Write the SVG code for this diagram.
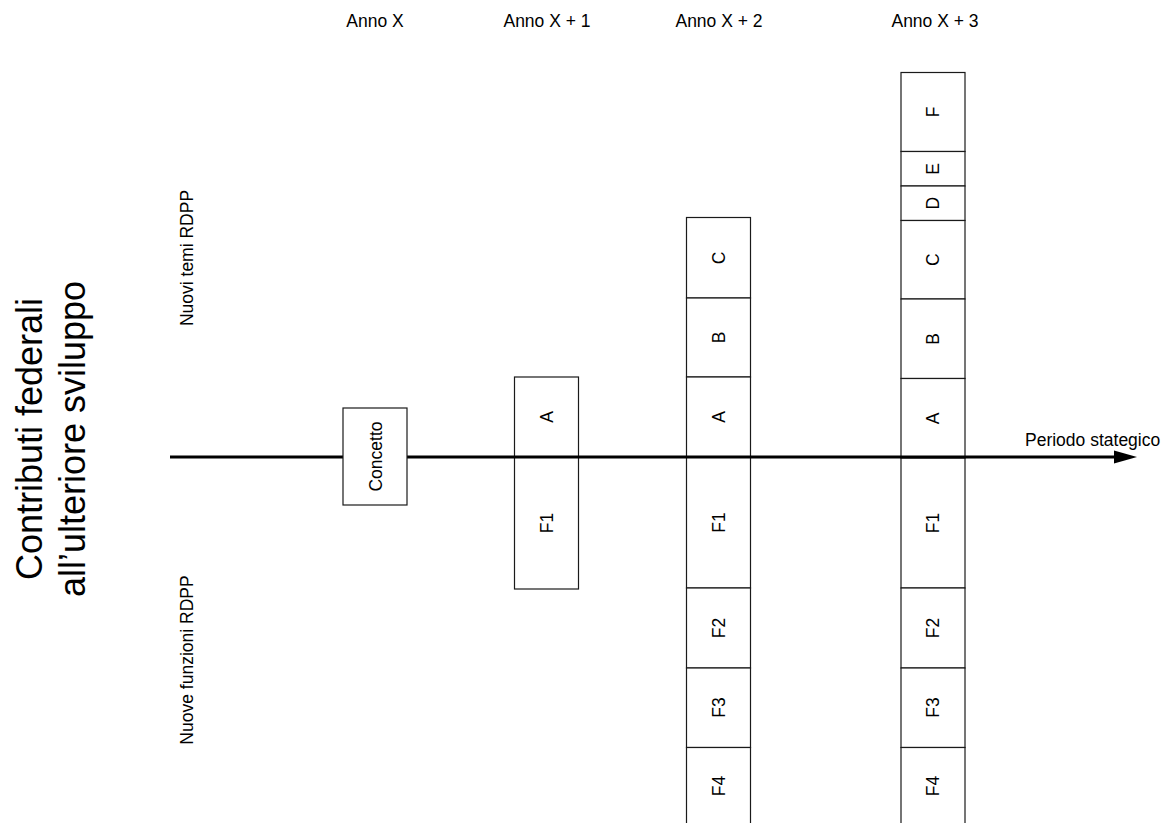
<svg xmlns="http://www.w3.org/2000/svg" width="1171" height="823" viewBox="0 0 1171 823">
<style>
text{font-family:"Liberation Sans",Arial,sans-serif;fill:#000}
.t{font-size:17.5px}
.big{font-size:36px}
.c{fill:#fff;stroke:#1a1a1a;stroke-width:1.2}
.ax{stroke:#000;stroke-width:3;fill:none}
</style>
<rect x="0" y="0" width="1171" height="823" fill="#fff"/>
<g id="headers">
<text class="t" x="375" y="27" text-anchor="middle">Anno X</text>
<text class="t" x="547" y="27" text-anchor="middle">Anno X + 1</text>
<text class="t" x="719" y="27" text-anchor="middle">Anno X + 2</text>
<text class="t" x="935" y="27" text-anchor="middle">Anno X + 3</text>
</g>
<g id="title">
<text class="big" transform="translate(42,439) rotate(-90)" text-anchor="middle">Contributi federali</text>
<text class="big" transform="translate(85,439) rotate(-90)" text-anchor="middle">all’ulteriore sviluppo</text>
</g>
<g id="side-labels">
<text class="t" transform="translate(193,258) rotate(-90)" text-anchor="middle">Nuovi temi RDPP</text>
<text class="t" transform="translate(193,660) rotate(-90)" text-anchor="middle">Nuove funzioni RDPP</text>
</g>
<g id="col-x1">
<rect class="c" x="514.5" y="377" width="64" height="212"/>
<text class="t" transform="translate(552.5,417) rotate(-90)" text-anchor="middle">A</text>
<text class="t" transform="translate(552.5,523) rotate(-90)" text-anchor="middle">F1</text>
</g>
<g id="col-x2">
<rect class="c" x="686.5" y="217.5" width="64" height="80.5"/>
<rect class="c" x="686.5" y="298" width="64" height="79"/>
<rect class="c" x="686.5" y="377" width="64" height="80"/>
<rect class="c" x="686.5" y="457" width="64" height="131"/>
<rect class="c" x="686.5" y="588" width="64" height="80"/>
<rect class="c" x="686.5" y="668" width="64" height="79.5"/>
<rect class="c" x="686.5" y="747.5" width="64" height="90"/>
<text class="t" transform="translate(724.5,258) rotate(-90)" text-anchor="middle">C</text>
<text class="t" transform="translate(724.5,337.5) rotate(-90)" text-anchor="middle">B</text>
<text class="t" transform="translate(724.5,417) rotate(-90)" text-anchor="middle">A</text>
<text class="t" transform="translate(724.5,522.5) rotate(-90)" text-anchor="middle">F1</text>
<text class="t" transform="translate(724.5,628) rotate(-90)" text-anchor="middle">F2</text>
<text class="t" transform="translate(724.5,707.5) rotate(-90)" text-anchor="middle">F3</text>
<text class="t" transform="translate(724.5,786) rotate(-90)" text-anchor="middle">F4</text>
</g>
<g id="col-x3">
<rect class="c" x="901" y="72.5" width="64" height="79"/>
<rect class="c" x="901" y="151.5" width="64" height="34.5"/>
<rect class="c" x="901" y="186" width="64" height="34.5"/>
<rect class="c" x="901" y="220.5" width="64" height="78.5"/>
<rect class="c" x="901" y="299" width="64" height="79.5"/>
<rect class="c" x="901" y="378.5" width="64" height="79.5"/>
<rect class="c" x="901" y="458" width="64" height="130"/>
<rect class="c" x="901" y="588" width="64" height="80"/>
<rect class="c" x="901" y="668" width="64" height="79.5"/>
<rect class="c" x="901" y="747.5" width="64" height="90"/>
<text class="t" transform="translate(939,112) rotate(-90)" text-anchor="middle">F</text>
<text class="t" transform="translate(939,168.8) rotate(-90)" text-anchor="middle">E</text>
<text class="t" transform="translate(939,203.3) rotate(-90)" text-anchor="middle">D</text>
<text class="t" transform="translate(939,259.8) rotate(-90)" text-anchor="middle">C</text>
<text class="t" transform="translate(939,338.8) rotate(-90)" text-anchor="middle">B</text>
<text class="t" transform="translate(939,418.3) rotate(-90)" text-anchor="middle">A</text>
<text class="t" transform="translate(939,523) rotate(-90)" text-anchor="middle">F1</text>
<text class="t" transform="translate(939,628) rotate(-90)" text-anchor="middle">F2</text>
<text class="t" transform="translate(939,707.5) rotate(-90)" text-anchor="middle">F3</text>
<text class="t" transform="translate(939,786) rotate(-90)" text-anchor="middle">F4</text>
</g>
<g id="connectors">
<line class="ax" x1="170" y1="457" x2="1116" y2="457"/>
<polygon points="1114,450.5 1137,457 1114,463.5" fill="#000"/>
</g>
<g id="axis-label">
<text class="t" x="1025" y="446">Periodo stategico</text>
</g>
<g id="concetto">
<rect class="c" x="343" y="408" width="64" height="97"/>
<text class="t" transform="translate(381.5,456.5) rotate(-90)" text-anchor="middle">Concetto</text>
</g>
</svg>
